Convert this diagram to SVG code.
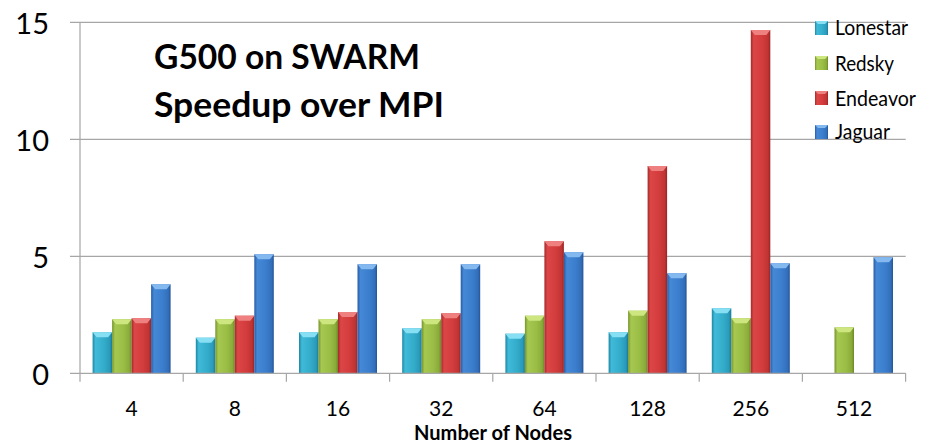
<svg xmlns="http://www.w3.org/2000/svg" width="932" height="444" viewBox="0 0 932 444">
<defs>
<linearGradient id="gL" x1="0" y1="0" x2="1" y2="0"><stop offset="0" stop-color="#1e86a4"/><stop offset="0.15" stop-color="#3fbad8"/><stop offset="0.6" stop-color="#33acca"/><stop offset="0.88" stop-color="#2a9aba"/><stop offset="1" stop-color="#1b7896"/></linearGradient>
<linearGradient id="gR" x1="0" y1="0" x2="1" y2="0"><stop offset="0" stop-color="#76942c"/><stop offset="0.15" stop-color="#a6c850"/><stop offset="0.6" stop-color="#9abd45"/><stop offset="0.88" stop-color="#8aab3a"/><stop offset="1" stop-color="#6c8826"/></linearGradient>
<linearGradient id="gE" x1="0" y1="0" x2="1" y2="0"><stop offset="0" stop-color="#a42a2a"/><stop offset="0.15" stop-color="#dc4646"/><stop offset="0.6" stop-color="#d23c3c"/><stop offset="0.88" stop-color="#bf3434"/><stop offset="1" stop-color="#992424"/></linearGradient>
<linearGradient id="gJ" x1="0" y1="0" x2="1" y2="0"><stop offset="0" stop-color="#295ca4"/><stop offset="0.15" stop-color="#4488d6"/><stop offset="0.6" stop-color="#3b7ecd"/><stop offset="0.88" stop-color="#336fba"/><stop offset="1" stop-color="#24549a"/></linearGradient>
</defs>
<style>
.grid{stroke:#a6a6a6;stroke-width:1.2;fill:none}
.L{fill:url(#gL)} .R{fill:url(#gR)} .E{fill:url(#gE)} .J{fill:url(#gJ)}
.cL{fill:#86dff3} .cR{fill:#cde67f} .cE{fill:#ef8080} .cJ{fill:#84b9f0}
.ax{font-family:Lato,"Liberation Sans",sans-serif;fill:#000}
.title{font-family:Lato,"Liberation Sans",sans-serif;font-weight:bold;font-size:34px;fill:#000}
.leg{font-family:Lato,"Liberation Sans",sans-serif;font-size:21px;fill:#000}
</style>
<rect width="932" height="444" fill="#fff"/>
<g id="grid">
<path class="grid" d="M70,22.3H905.7M70,139.3H905.7M70,256.3H905.7M80,22.3V381.7"/>
</g>
<g id="bars">
<g id="c4"><rect class="L" x="92.6" y="332.3" width="19.5" height="41"/><path class="cL" d="M92.6,332.3h19.5l-4,5h-11.5z"/><rect class="R" x="112.1" y="319.3" width="19.5" height="54"/><path class="cR" d="M112.1,319.3h19.5l-4,5h-11.5z"/><rect class="E" x="131.6" y="318.3" width="19.5" height="55"/><path class="cE" d="M131.6,318.3h19.5l-4,5h-11.5z"/><rect class="J" x="151.1" y="284.3" width="19.5" height="89"/><path class="cJ" d="M151.1,284.3h19.5l-4,5h-11.5z"/></g>
<g id="c8"><rect class="L" x="195.8" y="337.7" width="19.5" height="35.6"/><path class="cL" d="M195.8,337.7h19.5l-4,5h-11.5z"/><rect class="R" x="215.3" y="319.3" width="19.5" height="54"/><path class="cR" d="M215.3,319.3h19.5l-4,5h-11.5z"/><rect class="E" x="234.8" y="315.7" width="19.5" height="57.6"/><path class="cE" d="M234.8,315.7h19.5l-4,5h-11.5z"/><rect class="J" x="254.3" y="254.3" width="19.5" height="119"/><path class="cJ" d="M254.3,254.3h19.5l-4,5h-11.5z"/></g>
<g id="c16"><rect class="L" x="299" y="332.3" width="19.5" height="41"/><path class="cL" d="M299,332.3h19.5l-4,5h-11.5z"/><rect class="R" x="318.5" y="319.3" width="19.5" height="54"/><path class="cR" d="M318.5,319.3h19.5l-4,5h-11.5z"/><rect class="E" x="338" y="312" width="19.5" height="61.3"/><path class="cE" d="M338,312h19.5l-4,5h-11.5z"/><rect class="J" x="357.5" y="264.3" width="19.5" height="109"/><path class="cJ" d="M357.5,264.3h19.5l-4,5h-11.5z"/></g>
<g id="c32"><rect class="L" x="402.2" y="328.3" width="19.5" height="45"/><path class="cL" d="M402.2,328.3h19.5l-4,5h-11.5z"/><rect class="R" x="421.7" y="319.3" width="19.5" height="54"/><path class="cR" d="M421.7,319.3h19.5l-4,5h-11.5z"/><rect class="E" x="441.2" y="313.3" width="19.5" height="60"/><path class="cE" d="M441.2,313.3h19.5l-4,5h-11.5z"/><rect class="J" x="460.7" y="264.3" width="19.5" height="109"/><path class="cJ" d="M460.7,264.3h19.5l-4,5h-11.5z"/></g>
<g id="c64"><rect class="L" x="505.4" y="333.7" width="19.5" height="39.6"/><path class="cL" d="M505.4,333.7h19.5l-4,5h-11.5z"/><rect class="R" x="524.9" y="315.7" width="19.5" height="57.6"/><path class="cR" d="M524.9,315.7h19.5l-4,5h-11.5z"/><rect class="E" x="544.4" y="241.3" width="19.5" height="132"/><path class="cE" d="M544.4,241.3h19.5l-4,5h-11.5z"/><rect class="J" x="563.9" y="252.3" width="19.5" height="121"/><path class="cJ" d="M563.9,252.3h19.5l-4,5h-11.5z"/></g>
<g id="c128"><rect class="L" x="608.6" y="332.3" width="19.5" height="41"/><path class="cL" d="M608.6,332.3h19.5l-4,5h-11.5z"/><rect class="R" x="628.1" y="310.7" width="19.5" height="62.6"/><path class="cR" d="M628.1,310.7h19.5l-4,5h-11.5z"/><rect class="E" x="647.6" y="166" width="19.5" height="207.3"/><path class="cE" d="M647.6,166h19.5l-4,5h-11.5z"/><rect class="J" x="667.1" y="273.3" width="19.5" height="100"/><path class="cJ" d="M667.1,273.3h19.5l-4,5h-11.5z"/></g>
<g id="c256"><rect class="L" x="711.8" y="308.3" width="19.5" height="65"/><path class="cL" d="M711.8,308.3h19.5l-4,5h-11.5z"/><rect class="R" x="731.3" y="318.3" width="19.5" height="55"/><path class="cR" d="M731.3,318.3h19.5l-4,5h-11.5z"/><rect class="E" x="750.8" y="30" width="19.5" height="343.3"/><path class="cE" d="M750.8,30h19.5l-4,5h-11.5z"/><rect class="J" x="770.3" y="263.3" width="19.5" height="110"/><path class="cJ" d="M770.3,263.3h19.5l-4,5h-11.5z"/></g>
<g id="c512"><rect class="R" x="834.5" y="327.3" width="19.5" height="46"/><path class="cR" d="M834.5,327.3h19.5l-4,5h-11.5z"/><rect class="J" x="873.5" y="257.3" width="19.5" height="116"/><path class="cJ" d="M873.5,257.3h19.5l-4,5h-11.5z"/></g>
</g>
<g id="xaxis">
<path class="grid" d="M70,373.3H905.7M183.2,373.3V381.7M286.4,373.3V381.7M389.6,373.3V381.7M492.8,373.3V381.7M596,373.3V381.7M699.2,373.3V381.7M802.4,373.3V381.7M905.6,373.3V381.7"/>
</g>
<g id="ylabels" class="ax" font-size="29" text-anchor="end">
<text x="49" y="33.5">15</text>
<text x="49" y="150.5">10</text>
<text x="49" y="267.5">5</text>
<text x="49" y="384.5">0</text>
</g>
<g id="xlabels" class="ax" font-size="21" text-anchor="middle">
<text x="131.6" y="416">4</text>
<text x="234.8" y="416">8</text>
<text x="338" y="416">16</text>
<text x="441.2" y="416">32</text>
<text x="544.4" y="416">64</text>
<text x="647.6" y="416">128</text>
<text x="750.8" y="416">256</text>
<text x="854" y="416">512</text>
</g>
<text id="xtitle" class="ax" font-size="21" font-weight="bold" x="414" y="439.5" textLength="158" lengthAdjust="spacingAndGlyphs">Number of Nodes</text>
<g id="title">
<text class="title" x="154" y="69.3" textLength="266" lengthAdjust="spacingAndGlyphs">G500 on SWARM</text>
<text class="title" x="154" y="117.3" textLength="290" lengthAdjust="spacingAndGlyphs">Speedup over MPI</text>
</g>
<g id="legend">
<g id="leg-lonestar"><rect class="L" x="815" y="21" width="13" height="14"/><path class="cL" d="M815,21h13l-3,3h-7z"/><text class="leg" x="835" y="35" textLength="73" lengthAdjust="spacingAndGlyphs">Lonestar</text></g>
<g id="leg-redsky"><rect class="R" x="815" y="56" width="13" height="14"/><path class="cR" d="M815,56h13l-3,3h-7z"/><text class="leg" x="835" y="70.5" textLength="59" lengthAdjust="spacingAndGlyphs">Redsky</text></g>
<g id="leg-endeavor"><rect class="E" x="815" y="91" width="13" height="14"/><path class="cE" d="M815,91h13l-3,3h-7z"/><text class="leg" x="835" y="105.5" textLength="81" lengthAdjust="spacingAndGlyphs">Endeavor</text></g>
<g id="leg-jaguar"><rect class="J" x="815" y="125" width="13" height="14"/><path class="cJ" d="M815,125h13l-3,3h-7z"/><text class="leg" x="835" y="139" textLength="55" lengthAdjust="spacingAndGlyphs">Jaguar</text></g>
</g>
</svg>
